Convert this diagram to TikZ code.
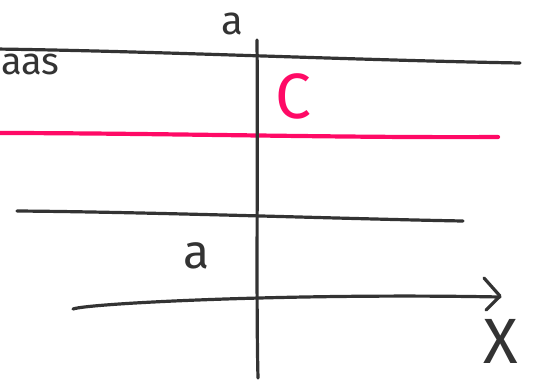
\documentclass[tikz,border=0pt]{standalone}
\usepackage{fontspec}
\setmainfont{Fira Sans}
\definecolor{ink}{HTML}{333333}
\definecolor{pinkc}{HTML}{FF0A66}
\begin{document}
\begin{tikzpicture}[x=1pt,y=-1pt,
  pen/.style={draw=ink,line width=3.2pt,line cap=round,line join=round},
  pinkpen/.style={draw=pinkc,line width=4.2pt,line cap=round},
  lbl/.style={text=ink,font=\fontsize{48}{48}\selectfont\mdseries,inner sep=0pt}]
\useasboundingbox (0,0) rectangle (535,381);
% top line
\draw[pen] (-5,49) .. controls (150,51) and (350,60) .. (520,63);
% pink line
\draw[pinkpen] (-5,133) .. controls (150,133) and (350,138) .. (498,137);
% middle line
\draw[pen] (17,211) .. controls (150,212) and (350,219) .. (463,221);
% axis
\coordinate (xs) at (73,309);
\coordinate (xe) at (500,297);
\draw[pen] (xs) .. controls (90,303) and (300,293) .. (xe);
\draw[pen] (484,278) -- (500,296) -- (486,310);
% vertical line
\draw[pen] (257,40) .. controls (258,150) and (256,300) .. (258,378);
% labels
\node[lbl,anchor=base,font=\fontsize{40}{40}\selectfont] (atop) at (232,34) {a};
\node[lbl] (amid) at (197,256) {a};
\node[lbl,anchor=base west,font=\fontsize{38}{38}\selectfont] (las) at (1,74) {aas};
\node[lbl,text=pinkc,font=\fontsize{64}{64}\selectfont] (c) at (293,96) {C};
\node[lbl,font=\fontsize{64}{64}\selectfont] (xl) at (501,341) {X};
\end{tikzpicture}
\end{document}
